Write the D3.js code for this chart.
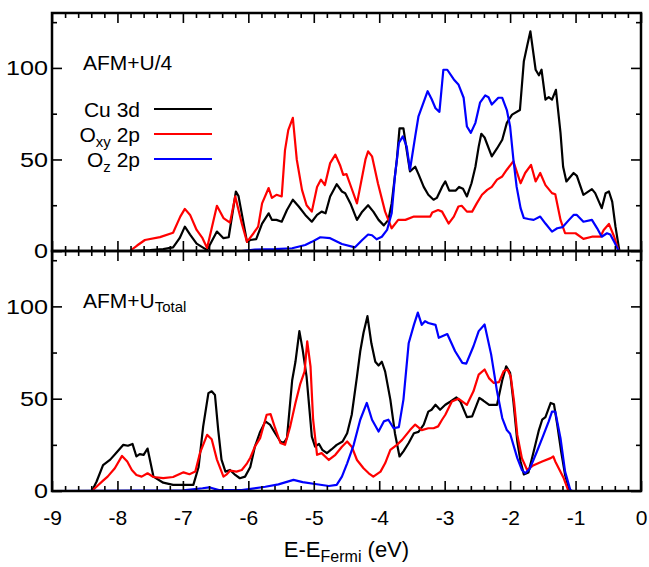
<!DOCTYPE html>
<html lang="en">

<head>
  <meta charset="UTF-8">
  <script src="https://cdn.jsdelivr.net/npm/d3@7"></script>
  <title>PDOS</title>
  <style>
    body { margin: 0; background: #fff; }
    text { font-family: "Liberation Sans", Arial, sans-serif; fill: #000; }
  </style>
</head>

<body>
  <svg width="649" height="567"></svg>
  <script>
    // energy (eV) / DOS pairs, top panel = AFM+U/4
    var topCu = [[-9,0],[-7.8,0],[-7.5,0.5],[-7.3,1],[-7.15,2],[-7.05,7],[-6.97,13.3],[-6.89,9],[-6.79,4],[-6.63,0.5],[-6.48,10.6],[-6.38,7],[-6.3,7.5],[-6.19,32.5],[-6.15,30],[-6.02,5],[-5.97,6],[-5.88,6.5],[-5.79,15],[-5.69,20.6],[-5.64,17],[-5.57,17],[-5.49,16],[-5.41,22.4],[-5.32,28],[-5.23,24.3],[-5.13,19.7],[-5.03,16],[-4.95,19.7],[-4.88,21.5],[-4.82,20.6],[-4.75,29.8],[-4.65,36.5],[-4.57,32.5],[-4.52,31.6],[-4.44,26],[-4.34,17],[-4.26,21.5],[-4.17,25],[-4.09,21.5],[-4.01,17],[-3.93,14],[-3.86,17],[-3.81,26],[-3.73,50],[-3.69,67],[-3.63,67],[-3.58,55],[-3.53,43.5],[-3.45,46],[-3.4,42],[-3.32,35],[-3.25,30.7],[-3.17,28],[-3.12,29],[-3.04,35],[-2.99,38],[-2.93,33],[-2.83,33],[-2.78,35],[-2.72,34],[-2.66,29.8],[-2.59,37],[-2.53,46],[-2.48,57],[-2.44,64],[-2.39,62],[-2.28,51.7],[-2.2,56],[-2.12,60.8],[-2.05,70],[-1.97,74.5],[-1.85,77],[-1.79,103.7],[-1.74,112],[-1.69,120],[-1.61,99],[-1.56,96],[-1.52,99],[-1.46,82.7],[-1.41,84],[-1.36,82.7],[-1.3,88],[-1.23,64.5],[-1.19,46],[-1.14,38],[-1.03,42.6],[-0.98,41],[-0.88,30.7],[-0.75,33.8],[-0.7,31.6],[-0.6,23.4],[-0.54,31.6],[-0.49,32.5],[-0.44,27],[-0.39,13.3],[-0.33,0],[0,0]];
    var topOxy = [[-9,0],[-7.81,0],[-7.7,3],[-7.58,6],[-7.35,7.6],[-7.15,10],[-7.04,18.8],[-6.97,23],[-6.89,19.7],[-6.79,11.5],[-6.7,7],[-6.63,1.6],[-6.48,24.7],[-6.38,18],[-6.28,15.5],[-6.2,29.8],[-6.1,15],[-6.02,5],[-5.92,9.7],[-5.85,13.3],[-5.79,26],[-5.69,34.4],[-5.64,29],[-5.57,30.7],[-5.49,29.8],[-5.44,55],[-5.39,66],[-5.32,72.7],[-5.26,50],[-5.18,33.4],[-5.11,25],[-5.03,21.5],[-4.95,35],[-4.89,39],[-4.83,36],[-4.75,48],[-4.67,52.6],[-4.6,47],[-4.55,41.6],[-4.5,42],[-4.42,34],[-4.34,26],[-4.21,50],[-4.17,54.4],[-4.11,51.7],[-4.02,37],[-3.91,21.5],[-3.81,12.4],[-3.71,17],[-3.6,17],[-3.47,18.8],[-3.22,18.8],[-3.19,21],[-3.1,22.4],[-3.04,21.5],[-2.94,15],[-2.86,18.8],[-2.79,24.3],[-2.74,24.7],[-2.66,21.5],[-2.58,21.5],[-2.51,26],[-2.43,30.7],[-2.35,33.4],[-2.28,35],[-2.2,39],[-2.12,40.7],[-2.05,44.4],[-1.95,49],[-1.84,37],[-1.77,42.6],[-1.68,47],[-1.61,38],[-1.54,42.6],[-1.46,36],[-1.36,31.6],[-1.31,31],[-1.23,17],[-1.16,9.7],[-1.0,9.7],[-0.88,6.6],[-0.75,7.8],[-0.62,7.8],[-0.57,11.5],[-0.49,14.8],[-0.41,7.8],[-0.34,0],[0,0]];
    var topOz = [[-9,0],[-6.1,0],[-5.9,0.8],[-5.6,1],[-5.33,1.5],[-5.13,3.3],[-5.03,5],[-4.9,7.5],[-4.75,7],[-4.57,3.8],[-4.37,2],[-4.26,6],[-4.17,9],[-4.11,8.6],[-4.04,6.4],[-3.96,7.8],[-3.88,11.5],[-3.81,20.6],[-3.76,40.7],[-3.7,59],[-3.64,62.6],[-3.58,57],[-3.53,44.4],[-3.45,62.6],[-3.4,73.6],[-3.26,87.3],[-3.2,83],[-3.14,78],[-3.08,76],[-3.02,99],[-2.96,99],[-2.86,93.7],[-2.79,91],[-2.71,83.7],[-2.66,68],[-2.6,64.5],[-2.53,70],[-2.46,81],[-2.38,85],[-2.33,84],[-2.28,80],[-2.18,83.7],[-2.12,83.7],[-2.05,77],[-2.0,68],[-1.95,50],[-1.9,35],[-1.84,23.4],[-1.79,18],[-1.72,17.5],[-1.64,17],[-1.54,18.8],[-1.46,15],[-1.36,10.6],[-1.28,12.4],[-1.2,13],[-1.1,17],[-1.03,19.7],[-0.98,19.7],[-0.88,16],[-0.75,17],[-0.67,12.4],[-0.6,7.8],[-0.52,9.7],[-0.47,9],[-0.41,5],[-0.34,0],[0,0]];

    // bottom panel = AFM+U_Total
    var botCu = [[-9,0],[-8.39,0],[-8.32,5],[-8.22,14],[-8.11,17],[-8.01,21],[-7.91,25],[-7.84,24.5],[-7.77,25.5],[-7.71,18.7],[-7.66,20],[-7.6,19.6],[-7.54,23],[-7.45,7.8],[-7.3,4.5],[-7.15,3.3],[-6.84,3.3],[-6.76,13],[-6.69,35],[-6.61,53],[-6.56,54],[-6.51,52],[-6.46,33],[-6.41,17],[-6.35,10.5],[-6.28,11.4],[-6.2,8.7],[-6.13,6.9],[-6.05,7.8],[-5.97,13],[-5.9,24],[-5.82,32],[-5.74,37.7],[-5.67,36],[-5.59,31.3],[-5.51,26.8],[-5.46,26],[-5.41,28.6],[-5.33,60],[-5.28,70],[-5.22,86.6],[-5.17,76.6],[-5.11,62],[-5.03,29.5],[-4.98,24],[-4.92,25.5],[-4.87,22.3],[-4.8,20.5],[-4.73,22.5],[-4.65,25],[-4.56,26.8],[-4.49,31.3],[-4.42,41.3],[-4.34,62],[-4.29,75.7],[-4.24,85.7],[-4.18,94.7],[-4.12,80],[-4.06,70],[-4.01,68],[-3.96,70],[-3.91,64.8],[-3.83,49.5],[-3.76,31.3],[-3.69,18.7],[-3.63,21.5],[-3.55,26],[-3.47,31.3],[-3.4,32],[-3.32,36],[-3.25,43],[-3.2,44],[-3.14,46.7],[-3.07,44],[-2.99,46.7],[-2.91,48.5],[-2.82,50.7],[-2.76,48.5],[-2.66,40],[-2.58,40.4],[-2.47,50.4],[-2.41,49],[-2.32,46.7],[-2.2,46.7],[-2.12,60],[-2.06,67.5],[-2.0,64],[-1.95,48.5],[-1.89,26.8],[-1.84,16],[-1.79,9],[-1.72,10],[-1.64,21.4],[-1.56,33],[-1.51,38.6],[-1.46,40],[-1.38,47.7],[-1.33,47],[-1.28,36],[-1.22,21.4],[-1.16,8.7],[-1.09,0],[0,0]];
    var botOxy = [[-9,0],[-8.39,0],[-8.3,3],[-8.22,5.6],[-8.15,7.8],[-8.04,12.3],[-7.93,19],[-7.85,16],[-7.78,11.4],[-7.71,8.7],[-7.63,7.8],[-7.54,9.6],[-7.45,7.6],[-7.3,7],[-7.15,7.6],[-6.99,10.1],[-6.9,9.1],[-6.81,10.5],[-6.74,20.5],[-6.63,30.4],[-6.56,28],[-6.48,17],[-6.38,7.8],[-6.33,9],[-6.28,11],[-6.18,10.5],[-6.1,11.4],[-6.02,15],[-5.97,18],[-5.9,24],[-5.82,28.6],[-5.72,41.3],[-5.66,41.6],[-5.59,34],[-5.51,26],[-5.44,25],[-5.36,35],[-5.28,47.7],[-5.21,57.6],[-5.14,64.8],[-5.1,81],[-5.05,67.5],[-5.01,38.6],[-4.95,19.6],[-4.88,20.5],[-4.77,16.8],[-4.67,19.6],[-4.57,24],[-4.49,26.8],[-4.42,24],[-4.34,16.8],[-4.24,12.3],[-4.16,9.6],[-4.09,7.8],[-3.98,10.5],[-3.91,15],[-3.83,22.3],[-3.73,25],[-3.65,27.7],[-3.53,33],[-3.45,36],[-3.35,33],[-3.25,34],[-3.17,34],[-3.1,35],[-3.04,38.6],[-2.99,41.3],[-2.89,48.5],[-2.79,50],[-2.66,46.7],[-2.56,54],[-2.48,63],[-2.39,65.8],[-2.32,61],[-2.25,58.5],[-2.17,59],[-2.1,64.8],[-2.04,65.8],[-1.99,62],[-1.94,48.5],[-1.89,30.4],[-1.82,17.8],[-1.74,11.4],[-1.64,14],[-1.51,16],[-1.38,17.8],[-1.34,18.7],[-1.31,16],[-1.18,6.9],[-1.11,0],[0,0]];
    var botOz = [[-9,0],[-7.0,0.3],[-6.7,1.5],[-6.6,2],[-6.45,0.5],[-6.1,0.5],[-5.74,2.3],[-5.54,3.6],[-5.31,6],[-5.17,4.8],[-4.98,3.8],[-4.77,2.7],[-4.65,3.3],[-4.57,7.8],[-4.49,15],[-4.39,25],[-4.29,38.6],[-4.19,47.7],[-4.11,38.6],[-4.01,32.2],[-3.93,37.7],[-3.86,38.6],[-3.78,34],[-3.7,34.6],[-3.63,49.5],[-3.55,80],[-3.47,90],[-3.41,96.6],[-3.35,90],[-3.3,92],[-3.25,91],[-3.14,90],[-3.09,83],[-2.96,85],[-2.84,75.7],[-2.73,69.4],[-2.67,69],[-2.56,78.4],[-2.48,86.6],[-2.39,90.2],[-2.29,74],[-2.2,54],[-2.12,39.5],[-2.05,33],[-2.0,31],[-1.89,17.8],[-1.82,11.4],[-1.77,9.6],[-1.7,12],[-1.59,21.4],[-1.5,29.5],[-1.41,37.7],[-1.36,43],[-1.31,43],[-1.23,28.6],[-1.16,10.5],[-1.08,0.5],[-1.05,0],[0,0]];

    var xTicks = [-9, -8, -7, -6, -5, -4, -3, -2, -1, 0];
    var yTicks = [0, 50, 100];
    var yMinor = [25, 75, 125];
    var colors = ["#000000", "#ff0000", "#0000ff"];

    var svg = d3.select("svg");
    var plotL = 52, plotR = 641, plotT = 13, plotM = 251, plotB = 491;

    var x = d3.scaleLinear().domain([-9, 0]).range([plotL, plotR]);
    var yTop = d3.scaleLinear().domain([0, 130]).range([plotM, plotT]);
    var yBot = d3.scaleLinear().domain([0, 130]).range([plotB, plotM]);

    var xMinor = d3.range(-9, 0.001, 0.2).map(d => Math.round(d * 10) / 10)
      .filter(d => xTicks.indexOf(d) < 0);

    function drawPanel(y, y0, y1, series, showLabels) {
      var line = d3.line().x(d => x(d[0])).y(d => y(d[1]));

      series.forEach(function (s, i) {
        svg.append("path")
          .datum(s)
          .attr("fill", "none")
          .attr("stroke", colors[i])
          .attr("stroke-width", 2.2)
          .attr("stroke-linejoin", "round")
          .attr("d", line);
      });

      // inward ticks on all four sides
      var axes = [
        [d3.axisBottom(x).tickValues(xTicks).tickSize(-10), y0],
        [d3.axisBottom(x).tickValues(xMinor).tickSize(-5), y0],
        [d3.axisTop(x).tickValues(xTicks).tickSize(-10), y1],
        [d3.axisTop(x).tickValues(xMinor).tickSize(-5), y1]
      ];
      axes.forEach(function (a) {
        var g = svg.append("g")
          .attr("transform", "translate(0," + a[1] + ")")
          .call(a[0].tickSizeOuter(0).tickFormat(""));
        g.select(".domain").remove();
        g.selectAll("line").attr("stroke-width", 1.6);
      });

      var yAxes = [
        [d3.axisLeft(y).tickValues(yTicks).tickSize(-10), plotL, true],
        [d3.axisLeft(y).tickValues(yMinor).tickSize(-5), plotL, false],
        [d3.axisRight(y).tickValues(yTicks).tickSize(-10), plotR, false],
        [d3.axisRight(y).tickValues(yMinor).tickSize(-5), plotR, false]
      ];
      yAxes.forEach(function (a) {
        var g = svg.append("g")
          .attr("transform", "translate(" + a[1] + ",0)")
          .call(a[0].tickSizeOuter(0).tickFormat(d => String(d)));
        g.select(".domain").remove();
        g.selectAll("line").attr("stroke-width", 1.6);
        if (a[2]) {
          // the reference digits on the y axis are drawn wide
          g.selectAll("text")
            .attr("x", 0)
            .attr("transform", "translate(-4,0) scale(1.2,1)")
            .style("font-size", "21px")
            .style("font-family", "'Liberation Sans', Arial, sans-serif");
        } else {
          g.selectAll("text").remove();
        }
      });

      if (showLabels) {
        var gx = svg.append("g")
          .attr("transform", "translate(0," + y0 + ")")
          .call(d3.axisBottom(x).tickValues(xTicks).tickSize(0).tickPadding(19)
            .tickFormat(d => String(d)));
        gx.select(".domain").remove();
        gx.selectAll("text")
          .style("font-size", "21px")
          .style("font-family", "'Liberation Sans', Arial, sans-serif");
      }

      svg.append("rect")
        .attr("x", plotL).attr("y", y1)
        .attr("width", plotR - plotL).attr("height", y0 - y1)
        .attr("fill", "none")
        .attr("stroke", "#000")
        .attr("stroke-width", 2.5);
    }

    drawPanel(yTop, plotM, plotT, [topCu, topOxy, topOz], false);
    drawPanel(yBot, plotB, plotM, [botCu, botOxy, botOz], true);

    // panel labels
    svg.append("text").attr("x", 83).attr("y", 70)
      .style("font-size", "21px").text("AFM+U/4");
    var lab = svg.append("text").attr("x", 83).attr("y", 308).style("font-size", "21px");
    lab.append("tspan").text("AFM+U");
    lab.append("tspan").attr("dy", 4).style("font-size", "15px").text("Total");

    // legend
    var legendMain = ["Cu", "O", "O"];
    var legendSub = ["", "xy", "z"];
    var legendTail = [" 3d", " 2p", " 2p"];
    legendMain.forEach(function (m, i) {
      var ly = 109 + i * 25;
      var t = svg.append("text")
        .attr("x", 140).attr("y", ly + 8)
        .attr("text-anchor", "end")
        .style("font-size", "21px");
      t.append("tspan").text(m);
      if (legendSub[i]) {
        t.append("tspan").attr("dy", 5).style("font-size", "15px").text(legendSub[i]);
        t.append("tspan").attr("dy", -5).text(legendTail[i]);
      } else {
        t.append("tspan").text(legendTail[i]);
      }
      svg.append("line")
        .attr("x1", 154).attr("x2", 212)
        .attr("y1", ly).attr("y2", ly)
        .attr("stroke", colors[i])
        .attr("stroke-width", 2.2);
    });

    // x axis title
    var xt = svg.append("text")
      .attr("x", (plotL + plotR) / 2).attr("y", 557)
      .attr("text-anchor", "middle")
      .style("font-size", "22px");
    xt.append("tspan").text("E-E");
    xt.append("tspan").attr("dy", 5).style("font-size", "16px").text("Fermi");
    xt.append("tspan").attr("dy", -5).text(" (eV)");
  </script>
</body>

</html>
